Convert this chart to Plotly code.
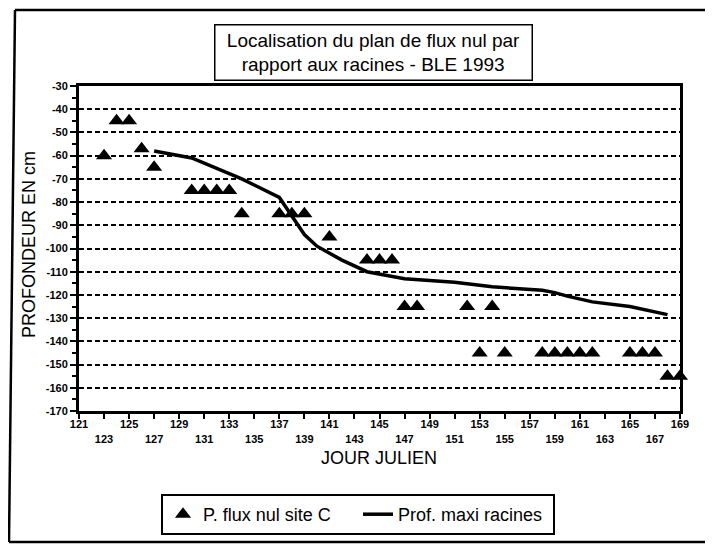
import plotly.graph_objects as go

# ---- data ----
flux_days = [123, 124, 125, 126, 127, 130, 131, 132, 133, 134, 137, 138, 139, 141,
             144, 145, 146, 147, 148, 152, 153, 154, 155, 158, 159, 160, 161, 162,
             165, 166, 167, 168, 169]
flux_depth = [-60, -45, -45, -57, -65, -75, -75, -75, -75, -85, -85, -85, -85, -95,
              -105, -105, -105, -125, -125, -125, -145, -125, -145, -145, -145, -145, -145, -145,
              -145, -145, -145, -155, -155]

root_days = [127, 130, 134, 137, 138, 139, 140, 141, 142, 144, 147, 151, 154, 158, 159, 160,
             162, 165, 167, 168]
root_depth = [-58, -61, -70, -78, -86, -94, -99, -102, -105, -110, -113, -114.5, -116.5, -118,
              -119, -120.5, -123, -125, -127.5, -128.5]

x_tickvals = list(range(121, 170, 2))
x_ticktext = ["<b>%d</b>" % v if i % 2 == 0 else "<br><b>%d</b>" % v for i, v in enumerate(x_tickvals)]
y_tickvals = list(range(-30, -171, -10))
y_ticktext = ["<b>-%d</b>" % abs(v) for v in y_tickvals]

title_text = "Localisation du plan de flux nul par<br>rapport aux racines - BLE 1993"
x_title = "JOUR JULIEN"
y_title = "PROFONDEUR EN cm"
series_names = ["P. flux nul site C", "Prof. maxi racines"]

# ---- figure geometry (screen px; page body has an 8px margin) ----
OFF = 8
W, H = 713 - OFF, 546 - OFF
SX0, SX1, SY0, SY1 = 79, 680, 86, 411          # plot area on screen
L, R = SX0 - OFF, W - (SX1 - OFF)
T, B = SY0 - OFF, H - (SY1 - OFF)
pw, ph = W - L - R, H - T - B

def px(xs):
    return (xs - OFF - L) / pw

def py(ys):
    return (H - B - (ys - OFF)) / ph

fig = go.Figure()
fig.add_trace(go.Scatter(
    x=flux_days, y=flux_depth, mode="markers", name=series_names[0],
    marker=dict(symbol="triangle-up", size=14, color="black"),
    cliponaxis=False,
))
fig.add_trace(go.Scatter(
    x=root_days, y=root_depth, mode="lines", name=series_names[1],
    line=dict(color="black", width=3.5),
))

font_main = "Liberation Sans, Arial, Helvetica, sans-serif"
font_tick = "Liberation Sans Narrow, Arial Narrow, Liberation Sans, sans-serif"

fig.update_layout(
    width=W, height=H,
    margin=dict(l=L, r=R, t=T, b=B, autoexpand=False),
    paper_bgcolor="white", plot_bgcolor="white",
    font=dict(family=font_main, color="black"),
    showlegend=True,
    legend=dict(
        orientation="h", x=px(161), y=py(494), xanchor="left", yanchor="top",
        bordercolor="black", borderwidth=2, font=dict(size=18, color="black"),
        bgcolor="white", itemwidth=30, tracegroupgap=0,
        entrywidth=150, entrywidthmode="pixels",
    ),
    xaxis=dict(
        range=[121, 169], tickmode="array", tickvals=x_tickvals, ticktext=x_ticktext,
        ticks="outside", ticklen=5, tickwidth=2, tickcolor="black",
        tickfont=dict(size=11, family=font_tick, color="black"),
        ticklabelstandoff=-4,
        showline=True, linecolor="black", linewidth=3, mirror=True,
        showgrid=False, zeroline=False, tickangle=0,
    ),
    yaxis=dict(
        range=[-170, -30], tickmode="array", tickvals=y_tickvals, ticktext=y_ticktext,
        ticks="outside", ticklen=6, tickwidth=2, tickcolor="black",
        tickfont=dict(size=11, family=font_tick, color="black"),
        minor=dict(dtick=5, ticks="outside", ticklen=4, tickwidth=2, tickcolor="black", showgrid=False),
        showline=True, linecolor="black", linewidth=3, mirror=True,
        showgrid=True, gridcolor="black", gridwidth=2.2, griddash="5px,3px",
        zeroline=False,
    ),
)

fig.add_annotation(
    text=title_text, xref="paper", yref="paper",
    x=px(373), y=py(52.5), xanchor="center", yanchor="middle",
    showarrow=False, font=dict(size=19, color="black", family=font_main),
    bordercolor="black", borderwidth=1.5, width=314, height=52, bgcolor="white",
)
fig.add_annotation(
    text=x_title, xref="paper", yref="paper", x=px(379), y=py(458),
    xanchor="center", yanchor="middle", showarrow=False,
    font=dict(size=18, color="black", family=font_main),
)
fig.add_annotation(
    text=y_title, xref="paper", yref="paper", x=px(29), y=py(245),
    xanchor="center", yanchor="middle", showarrow=False, textangle=-90,
    font=dict(size=18, color="black", family=font_main),
)

# outer frame (top, left, bottom)
frame = dict(color="black", width=2.5)
fig.add_shape(type="line", xref="paper", yref="paper", x0=px(15), x1=px(713), y0=py(10), y1=py(10), line=frame)
fig.add_shape(type="line", xref="paper", yref="paper", x0=px(15), x1=px(9), y0=py(10), y1=py(542), line=frame)
fig.add_shape(type="line", xref="paper", yref="paper", x0=px(9), x1=px(713), y0=py(542), y1=py(542), line=frame)

fig.write_html("out.html")
